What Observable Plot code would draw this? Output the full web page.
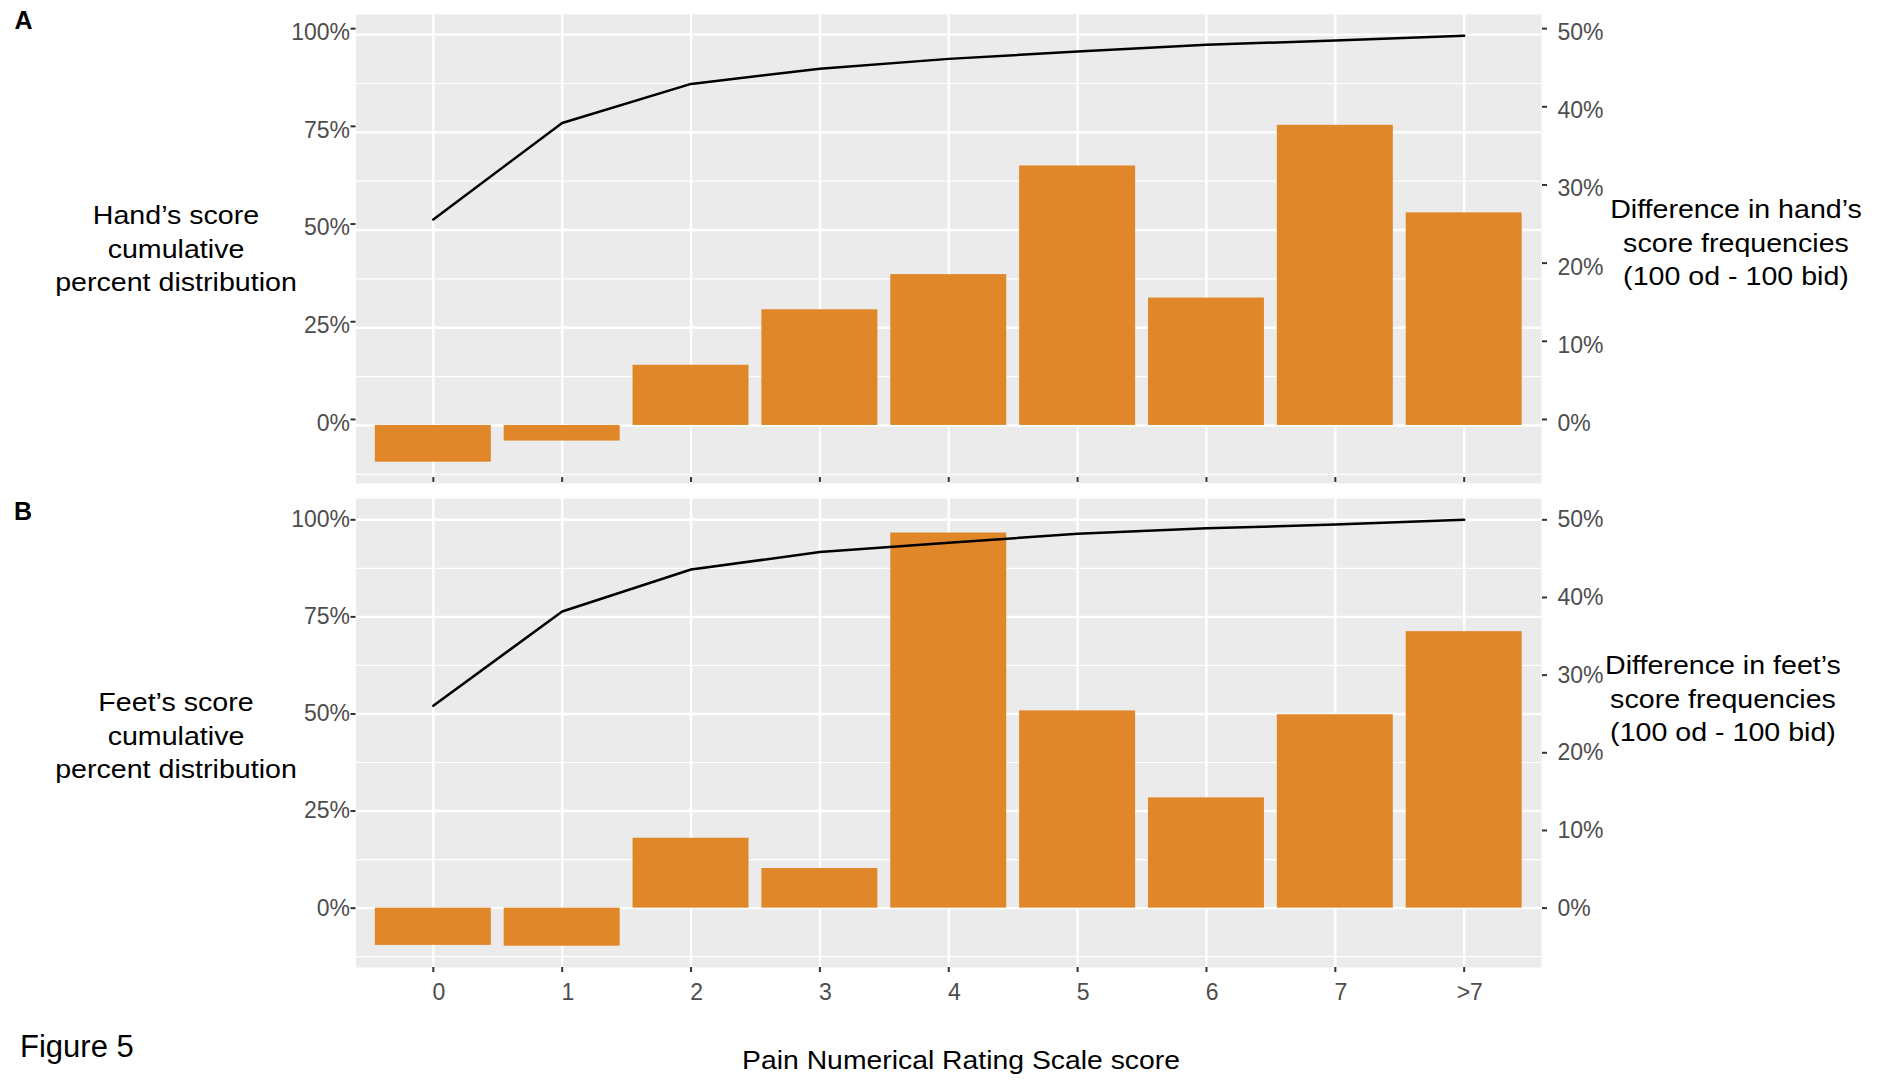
<!DOCTYPE html>
<html>
<head>
<meta charset="utf-8">
<script src="https://cdn.jsdelivr.net/npm/d3@7"></script>
<script src="https://cdn.jsdelivr.net/npm/@observablehq/plot@0.6"></script>
<style>
  html, body { margin: 0; padding: 0; background: #ffffff; }
  body { font-family: "Liberation Sans", Arial, sans-serif; }
  #root { position: relative; width: 1883px; height: 1081px; overflow: hidden; background: #fff; }
  .plot { position: absolute; left: 0; }
  .title { position: absolute; font-size: 26px; line-height: 33.5px; text-align: center; color: #000;
           white-space: nowrap; transform: translate(-50%, -50%) scaleX(1.1); }
  .xtitle { transform: translate(-50%, -50%) scaleX(1.09); }
  .tag { position: absolute; font-weight: bold; font-size: 25px; line-height: 25px; color: #000; }
  .caption { position: absolute; font-size: 31px; line-height: 31px; color: #000; }
</style>
</head>
<body>
<div id="root"></div>
<script>
// ---- data ----
const scores = ["0", "1", "2", "3", "4", "5", "6", "7", ">7"];
// cumulative percent distribution (left axis, %)
const handCumulative = [52.7, 77.4, 87.4, 91.3, 93.8, 95.7, 97.4, 98.5, 99.7];
const feetCumulative = [52.1, 76.4, 87.2, 91.7, 94.1, 96.4, 97.8, 98.8, 100];
// difference in score frequencies, 100 od - 100 bid (right axis, %)
const handDifference = [-4.7, -2.0, 7.7, 14.8, 19.3, 33.2, 16.3, 38.4, 27.2];
const feetDifference = [-4.8, -4.9, 9.0, 5.1, 48.3, 25.4, 14.2, 24.9, 35.6];
// axis ticks
const leftTicks = [0, 25, 50, 75, 100];
const minorTicks = [-12.5, 12.5, 37.5, 62.5, 87.5];
const rightTicks = [0, 10, 20, 30, 40, 50];
const secondaryFactor = 2; // right axis = left axis / 2

const barColor = "#E08829";

function panel({cum, diff, showXLabels, height, marginTop, marginBottom, tickShift, labelShift}) {
  const rows = scores.map((s, i) => ({score: s, cum: cum[i], diff: diff[i] * secondaryFactor}));
  const vals = rows.flatMap(r => [r.cum, r.diff, 0]);
  const lo = d3.min(vals), hi = d3.max(vals), pad = (hi - lo) * 0.05;
  const rightPos = rightTicks.map(t => t * secondaryFactor);
  const axisStyle = {stroke: "#333333", strokeWidth: 2, label: null};
  const textStyle = {fill: "#4D4D4D", label: null};
  return Plot.plot({
    width: 1883,
    height,
    marginLeft: 355.5,
    marginRight: 342,
    marginTop,
    marginBottom,
    style: {fontFamily: "'Liberation Sans', Arial, sans-serif", fontSize: "23px", background: "transparent", color: "#4D4D4D"},
    x: {type: "band", domain: scores, paddingInner: 0.1, paddingOuter: 0.15, round: false, label: null},
    y: {domain: [lo - pad, hi + pad], label: null},
    marks: [
      Plot.frame({fill: "#EBEBEB", stroke: null}),
      Plot.ruleY(minorTicks, {stroke: "#ffffff", strokeWidth: 1.2}),
      Plot.ruleY(leftTicks, {stroke: "#ffffff", strokeWidth: 2.4}),
      Plot.ruleX(scores, {stroke: "#ffffff", strokeWidth: 2.4}),
      Plot.barY(rows, {x: "score", y1: 0, y2: "diff", fill: barColor}),
      Plot.line(rows, {x: "score", y: "cum", stroke: "#000000", strokeWidth: 2.5}),
      // left axis: ticks and labels
      Plot.axisY(leftTicks, {anchor: "left", tickSize: 5, tickFormat: () => "", dy: tickShift, ...axisStyle}),
      Plot.axisY(leftTicks, {anchor: "left", tickSize: 0, tickPadding: 6, tickFormat: d => d + "%", dy: labelShift, ...textStyle}),
      // right (secondary) axis: ticks and labels
      Plot.axisY(rightPos, {anchor: "right", tickSize: 5, tickFormat: () => "", dy: tickShift, ...axisStyle}),
      Plot.axisY(rightPos, {anchor: "right", tickSize: 0, tickPadding: 16,
        tickFormat: d => (d / secondaryFactor) + "%", dy: labelShift, ...textStyle}),
      // x axis
      Plot.axisX(scores, {anchor: "bottom", tickSize: 5, tickFormat: () => "", dy: tickShift, ...axisStyle}),
      ...(showXLabels ? [Plot.axisX(scores, {anchor: "bottom", tickSize: 0, tickPadding: 16, dx: 5.6, ...textStyle})] : [])
    ]
  });
}

const root = document.getElementById("root");

const pA = panel({cum: handCumulative, diff: handDifference, showXLabels: false,
  height: 495, marginTop: 14, marginBottom: 12, tickShift: -6, labelShift: -2});
pA.classList.add("plot");
pA.style.top = "0px";
root.appendChild(pA);

const pB = panel({cum: feetCumulative, diff: feetDifference, showXLabels: true,
  height: 530, marginTop: 8, marginBottom: 53, tickShift: 0, labelShift: 0});
pB.classList.add("plot");
pB.style.top = "490px";
root.appendChild(pB);

function addDiv(cls, html, css) {
  const d = document.createElement("div");
  d.className = cls;
  d.innerHTML = html;
  Object.assign(d.style, css);
  root.appendChild(d);
}

addDiv("tag", "A", {left: "14.5px", top: "8px"});
addDiv("tag", "B", {left: "14px", top: "498.5px"});
addDiv("title", "Hand\u2019s score<br>cumulative<br>percent distribution", {left: "176px", top: "249px"});
addDiv("title", "Feet\u2019s score<br>cumulative<br>percent distribution", {left: "176px", top: "736px"});
addDiv("title", "Difference in hand\u2019s<br>score frequencies<br>(100 od - 100 bid)", {left: "1736px", top: "243px"});
addDiv("title", "Difference in feet\u2019s<br>score frequencies<br>(100 od - 100 bid)", {left: "1723px", top: "699px"});
addDiv("title xtitle", "Pain Numerical Rating Scale score", {left: "961px", top: "1061px"});
addDiv("caption", "Figure 5", {left: "20px", top: "1031px"});
</script>
</body>
</html>
